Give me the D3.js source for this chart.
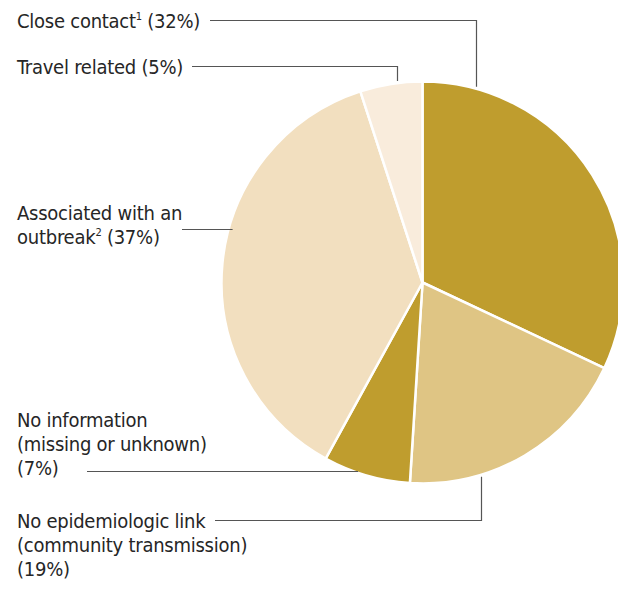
<!DOCTYPE html>
<html>
<head>
<meta charset="utf-8">
<script src="https://cdn.jsdelivr.net/npm/d3@7"></script>
<style>
html,body{margin:0;padding:0;background:#fff;}
svg{display:block;}
text{font-family:"Liberation Sans Narrow","DejaVu Sans Condensed",sans-serif;font-size:20px;fill:#262626;letter-spacing:-0.25px;}
</style>
</head>
<body>
<svg id="chart" width="618" height="593"></svg>
<script>
const categories = ["Close contact", "No epidemiologic link", "No information", "Associated with an outbreak", "Travel related"];
const values = [32, 19, 7, 37, 5];
const colors = ["#BF9D2E", "#DFC584", "#BF9D2E", "#F2DFBF", "#F9ECDC"];
const labelLines = [
  [["Close contact", "1", " (32%)"]],
  [["No epidemiologic link"], ["(community transmission)"], ["(19%)"]],
  [["No information"], ["(missing or unknown)"], ["(7%)"]],
  [["Associated with an"], ["outbreak", "2", " (37%)"]],
  [["Travel related (5%)"]]
];

const svg = d3.select("#chart");
const cx = 422.5, cy = 282.5, R = 201;
const pie = d3.pie().sort(null).value(d => d)(values);
const arc = d3.arc().innerRadius(0).outerRadius(R);
const g = svg.append("g").attr("transform", `translate(${cx},${cy})`);
g.selectAll("path").data(pie).join("path")
  .attr("d", arc)
  .attr("fill", (d, i) => colors[i])
  .attr("stroke", "#fff")
  .attr("stroke-width", 2.5)
  .attr("stroke-linejoin", "round");

// label layout: text x, first baseline, leader y, leader start x, anchor fraction within slice
const lh = 24;
const labelPos = [
  {x: 17, y: 28, ly: 20.5, lx0: 210, path: "elbow", f: 0.133},
  {x: 17, y: 528, ly: 520.5, lx0: 215, path: "elbow", f: 0.70},
  {x: 17, y: 427, ly: 471.5, lx0: 87, path: "flat"},
  {x: 17, y: 220, ly: 229.5, lx0: 182, path: "flat"},
  {x: 17, y: 74, ly: 66.5, lx0: 192, path: "elbow", f: 0.595}
];

pie.forEach((d, i) => {
  const p = labelPos[i];
  const t = svg.append("text").attr("x", p.x).attr("y", p.y);
  labelLines[i].forEach((line, li) => {
    line.forEach((seg, si) => {
      const ts = t.append("tspan").text(seg);
      if (si === 0) ts.attr("x", p.x).attr("y", p.y + li * lh);
      if (line.length === 3 && si === 1) ts.attr("font-size", "11px").attr("dy", -8);
      if (line.length === 3 && si === 2) ts.attr("dy", 8);
    });
  });
  if (p.path === "elbow") {
    const a = d.startAngle + p.f * (d.endAngle - d.startAngle);
    const ex = cx + Math.sin(a) * R;
    const ey = cy - Math.cos(a) * R;
    const yEdge = ey < cy ? ey - 2 : ey + 2;
    svg.append("path")
      .attr("d", `M${p.lx0},${p.ly}H${Math.round(ex) + 0.5}V${yEdge}`)
      .attr("fill", "none").attr("stroke", "#555").attr("stroke-width", 1.2);
  } else {
    const dy = p.ly - cy;
    const ex = cx - Math.sqrt(R * R - dy * dy) + 4;
    svg.append("path")
      .attr("d", `M${p.lx0},${p.ly}H${ex}`)
      .attr("fill", "none").attr("stroke", "#555").attr("stroke-width", 1.2);
  }
});
</script>
</body>
</html>
